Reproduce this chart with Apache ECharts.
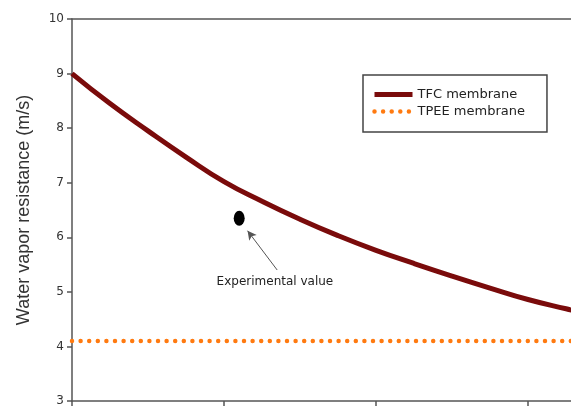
<!DOCTYPE html>
<html>
<head>
<meta charset="utf-8">
<script src="https://cdn.jsdelivr.net/npm/echarts@6/dist/echarts.min.js"></script>
<style>
  html, body { margin: 0; padding: 0; background: #fff; }
  #chart { width: 571px; height: 408px; }
</style>
</head>
<body>
<div id="chart"></div>
<script>
// Modelled resistance along the x range (x axis labels are not shown)
const xPositions = [0, 0.25, 0.5, 0.75, 1, 1.25, 1.5, 1.75, 2, 2.25, 2.5, 2.75, 3, 3.25, 3.5];
const tfcResistance = [9.00, 8.45, 7.95, 7.47, 7.02, 6.66, 6.33, 6.03, 5.76, 5.52, 5.29, 5.07, 4.86, 4.69, 4.53];

// TPEE membrane: constant resistance
const tpeeX = [0, 4];
const tpeeResistance = [4.1, 4.1];

// Measured point and its annotation (data units)
const experimentalPoint = [1.1, 6.35];
const arrowTail = [1.35, 5.40];
const arrowHead = [1.155, 6.12];
const annotationAt = [1.335, 5.19];
const annotationText = 'Experimental value';

const seriesNames = ['TFC membrane', 'TPEE membrane'];
const yTitle = 'Water vapor resistance (m/s)';

const chart = echarts.init(document.getElementById('chart'), null, { renderer: 'canvas' });

const axisGray = '#555';
const textFont = 'DejaVu Sans';
const tfcColor = '#7a0b0b';
const tpeeColor = '#ff7a10';
const tfcLine = { color: tfcColor, width: 5 };
const tpeeLine = { color: tpeeColor, width: 4.5, type: [0, 8.6], cap: 'round' };

chart.setOption({
  animation: false,
  backgroundColor: '#fff',
  grid: { left: 72, top: 19, width: 608, height: 382, containLabel: false, outerBoundsMode: 'none' },
  legend: {
    data: [
      { name: seriesNames[0], lineStyle: tfcLine },
      { name: seriesNames[1], lineStyle: tpeeLine }
    ],
    orient: 'vertical',
    left: 363,
    top: 75,
    padding: [13, 22, 14, 9],
    itemGap: 4,
    itemWidth: 38,
    itemHeight: 14,
    itemStyle: { opacity: 0 },
    borderColor: '#444',
    borderWidth: 1.5,
    textStyle: { fontFamily: textFont, fontSize: 13, color: '#222' }
  },
  xAxis: [
    {
      type: 'value', min: 0, max: 4, interval: 1, position: 'bottom',
      axisLine: { show: true, lineStyle: { color: axisGray, width: 1.5 } },
      axisTick: { show: true, inside: false, length: 5, lineStyle: { color: axisGray, width: 1.5 } },
      axisLabel: { show: false },
      splitLine: { show: false }
    },
    {
      type: 'value', min: 0, max: 4, position: 'top',
      axisLine: { show: true, onZero: false, lineStyle: { color: axisGray, width: 1.5 } },
      axisTick: { show: false }, axisLabel: { show: false }, splitLine: { show: false }
    }
  ],
  yAxis: {
    type: 'value', min: 3, max: 10, interval: 1,
    name: yTitle,
    nameLocation: 'middle',
    nameGap: 39,
    nameTextStyle: { fontFamily: 'Liberation Sans', fontSize: 18, color: '#333' },
    axisLine: { show: true, lineStyle: { color: axisGray, width: 1.5 } },
    axisTick: { show: true, inside: false, length: 5, lineStyle: { color: axisGray, width: 1.5 } },
    axisLabel: { fontFamily: textFont, fontSize: 12, color: '#333', margin: 8 },
    splitLine: { show: false }
  },
  series: [
    {
      name: seriesNames[0],
      type: 'line',
      smooth: true,
      symbol: 'none',
      showSymbol: false,
      data: xPositions.map((x, i) => [x, tfcResistance[i]]),
      lineStyle: tfcLine,
      itemStyle: { color: tfcColor }
    },
    {
      name: seriesNames[1],
      type: 'line',
      symbol: 'none',
      showSymbol: false,
      data: tpeeX.map((x, i) => [x, tpeeResistance[i]]),
      lineStyle: tpeeLine,
      itemStyle: { color: tpeeColor }
    },
    {
      name: 'experimental',
      type: 'scatter',
      data: [experimentalPoint],
      symbol: 'circle',
      symbolSize: [11, 15],
      itemStyle: { color: '#000', opacity: 1 },
      markLine: {
        silent: true,
        symbol: ['none', 'arrow'],
        symbolSize: [7, 9],
        label: { show: false },
        lineStyle: { color: '#555', width: 1, type: 'solid' },
        data: [[{ coord: arrowTail }, { coord: arrowHead }]]
      },
      markPoint: {
        silent: true,
        symbol: 'circle',
        symbolSize: 0,
        label: {
          show: true,
          position: 'inside',
          formatter: annotationText,
          fontFamily: textFont,
          fontSize: 12,
          color: '#222'
        },
        data: [{ coord: annotationAt }]
      }
    }
  ]
});
</script>
</body>
</html>
